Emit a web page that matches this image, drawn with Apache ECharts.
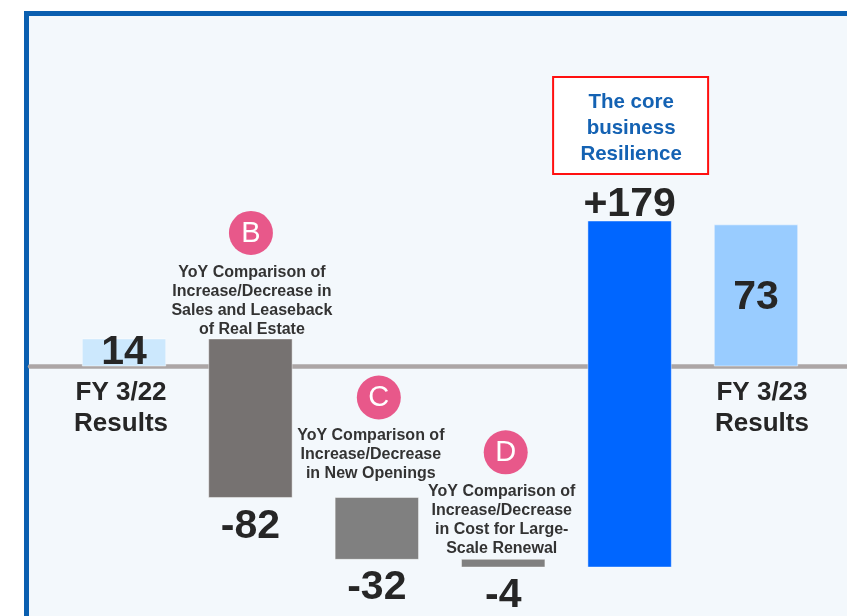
<!DOCTYPE html>
<html>
<head>
<meta charset="utf-8">
<script src="https://cdn.jsdelivr.net/npm/echarts@6/dist/echarts.min.js"></script>
<style>
  html, body { margin: 0; padding: 0; background: #fff; }
  #chart { width: 847px; height: 616px; }
</style>
</head>
<body>
<div id="chart"></div>
<script>
// data
const categories = ['FY 3/22\nResults', 'Sales and Leaseback', 'New Openings', 'Large-Scale Renewal', 'The core\nbusiness\nResilience', 'FY 3/23\nResults'];
const changes = [14, -82, -32, -4, 179, 73];
const isTotal = [true, false, false, false, false, true];
const valueLabels = ['14', '-82', '-32', '-4', '+179', '73'];
const markers = ['', 'B', 'C', 'D', '', ''];
const notes = [
  '',
  'YoY Comparison of\nIncrease/Decrease in\nSales and Leaseback\nof Real Estate',
  'YoY Comparison of\nIncrease/Decrease\nin New Openings',
  'YoY Comparison of\nIncrease/Decrease\nin Cost for Large-\nScale Renewal',
  '',
  ''
];

// styles / layout
const barColors = ['#cce8fd', '#767271', '#808080', '#808080', '#0066ff', '#99ccff'];
const valuePos = [['inside', 0], ['below', 29], ['below', 28], ['below', 29], ['above', -16], ['inside', 2]];
const catDx = [-3, 0, 0, 0, 0, 6];
const markerDy = [0, -106, -100, -107, 0, 0];
const markerDx = [0, 0.5, 2, 2.5, 0, 0];
const noteDy = [0, 0, -14, -1, 0, 0];
const noteDx = [0, 1.5, -6, -1.5, 0, 0];
const FONT = '"Liberation Sans", Arial, Helvetica, sans-serif';

// waterfall ranges
const ranges = [];
let run = 0;
changes.forEach((v, i) => {
  if (isTotal[i]) {
    ranges.push([i, 0, v]);
    run = v;
  } else {
    ranges.push([i, run, run + v]);
    run += v;
  }
});

const chart = echarts.init(document.getElementById('chart'));

function renderItem(params, api) {
  const i = api.value(0);
  const a = api.value(1), b = api.value(2);
  const pTop = api.coord([i, Math.max(a, b)]);
  const pBot = api.coord([i, Math.min(a, b)]);
  const pZero = api.coord([i, 0]);
  const w = api.size([1, 0])[0] * 0.66;
  const cx = pTop[0];
  const top = pTop[1], bot = pBot[1];
  const children = [{
    type: 'rect',
    shape: { x: cx - w / 2, y: top, width: w, height: bot - top },
    style: { fill: barColors[i], stroke: 'rgba(255,255,255,0.45)', lineWidth: 1 }
  }];

  // value label
  const vp = valuePos[i];
  let vy = vp[0] === 'inside' ? (top + bot) / 2 : (vp[0] === 'below' ? bot : top);
  children.push({
    type: 'text',
    style: {
      x: cx, y: vy + vp[1], text: valueLabels[i],
      fill: '#262626', font: 'bold 41px ' + FONT,
      align: 'center', verticalAlign: 'middle'
    }
  });

  if (isTotal[i]) {
    children.push({
      type: 'text',
      style: {
        x: cx + catDx[i], y: pZero[1] + 42, text: categories[i],
        fill: '#262626', font: 'bold 26px ' + FONT, lineHeight: 31,
        align: 'center', verticalAlign: 'middle'
      }
    });
  }

  if (markers[i]) {
    children.push({
      type: 'circle',
      shape: { cx: cx + markerDx[i], cy: top + markerDy[i], r: 22 },
      style: { fill: '#e8588a' }
    });
    children.push({
      type: 'text',
      style: {
        x: cx + markerDx[i], y: top + markerDy[i] + 1, text: markers[i],
        fill: '#ffffff', font: '29px ' + FONT,
        align: 'center', verticalAlign: 'middle'
      }
    });
    children.push({
      type: 'text',
      style: {
        x: cx + noteDx[i], y: top + noteDy[i], text: notes[i],
        fill: '#333333', font: 'bold 16px ' + FONT, lineHeight: 19,
        align: 'center', verticalAlign: 'bottom'
      }
    });
  }

  if (i === 4) {
    // boxed callout above the resilience bar
    children.push({
      type: 'rect',
      shape: { x: cx - 76.5, y: top - 144, width: 155, height: 97 },
      style: { fill: '#ffffff', stroke: '#ff1010', lineWidth: 2 }
    });
    children.push({
      type: 'text',
      style: {
        x: cx + 1.5, y: top - 93, text: categories[i],
        fill: '#1462b3', font: 'bold 20.5px ' + FONT, lineHeight: 26,
        align: 'center', verticalAlign: 'middle'
      }
    });
  }

  return { type: 'group', children: children };
}

const option = {
  backgroundColor: '#ffffff',
  animation: false,
  graphic: [{
    type: 'rect',
    z: -10,
    shape: { x: 26.5, y: 13.5, width: 900, height: 700 },
    style: { fill: '#f3f8fc', stroke: '#0a5fb0', lineWidth: 5 }
  }],
  grid: { left: 30, right: 0, top: 134, height: 464 },
  xAxis: {
    type: 'value',
    min: -0.744,
    max: 5.72,
    axisLine: { show: true, onZero: true, lineStyle: { color: '#aca6a6', width: 4.5 } },
    axisTick: { show: false },
    axisLabel: { show: false },
    splitLine: { show: false }
  },
  yAxis: {
    type: 'value',
    min: -120,
    max: 120,
    axisLine: { show: false },
    axisTick: { show: false },
    axisLabel: { show: false },
    splitLine: { show: false }
  },
  series: [{
    type: 'custom',
    renderItem: renderItem,
    encode: { x: 0, y: [1, 2] },
    clip: false,
    data: ranges
  }]
};

chart.setOption(option);
</script>
</body>
</html>
